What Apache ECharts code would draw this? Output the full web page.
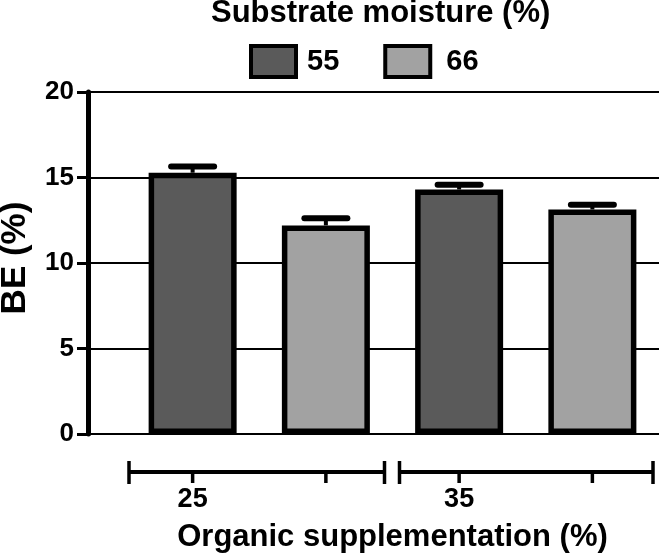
<!DOCTYPE html>
<html>
<head>
<meta charset="utf-8">
<script src="https://cdn.jsdelivr.net/npm/echarts@6/dist/echarts.min.js"></script>
<style>
html,body{margin:0;padding:0;background:#fff;}
#chart{width:661px;height:556px;}
</style>
</head>
<body>
<div id="chart"></div>
<script>
// ---- data ----
const organic = ['25', '35'];          // Organic supplementation (%)
const moisture = ['55', '66'];         // Substrate moisture (%)
const be55 = [15.28, 14.30];           // BE (%) at 55 % moisture
const be66 = [12.20, 13.13];           // BE (%) at 66 % moisture
const err55 = [0.37, 0.28];
const err66 = [0.42, 0.28];
const yTicks = [0, 5, 10, 15, 20];

// ---- build slots: each organic level has a 55 bar and a 66 bar ----
const slots = [];
const data55 = [], data66 = [], errData = [];
organic.forEach((o, i) => {
  slots.push(o + '|55', o + '|66');
  data55.push(be55[i], '-');
  data66.push('-', be66[i]);
  errData.push([2 * i, be55[i], err55[i]]);
  errData.push([2 * i + 1, be66[i], err66[i]]);
});
const groups = organic.map((o, i) => [2 * i, 2 * i + 1, 0]);

const FONT = '"Liberation Sans", Arial, Helvetica, sans-serif';
const AXIS_OFFSET = 38;
const chart = echarts.init(document.getElementById('chart'), null, {renderer: 'canvas'});

chart.setOption({
  animation: false,
  backgroundColor: '#fff',
  title: {
    text: 'Substrate moisture (%)',
    left: 211, top: -2, padding: 0,
    textStyle: {fontFamily: FONT, fontSize: 31, fontWeight: 'bold', color: '#000'}
  },
  legend: {
    data: [{name: moisture[0]}, {name: moisture[1], textStyle: {padding: [0, 0, 0, 11]}}],
    left: 249, top: 44, padding: 0,
    itemWidth: 45, itemHeight: 31, itemGap: 44,
    icon: 'rect',
    itemStyle: {borderColor: '#000', borderWidth: 4},
    textStyle: {fontFamily: FONT, fontSize: 29, fontWeight: 'bold', color: '#000', padding: [0, 0, 0, 6]}
  },
  grid: [
    {left: 88, right: 2, top: 92, bottom: 122, outerBoundsMode: 'none', containLabel: false},
    {left: 126, right: 2, top: 92, bottom: 122, outerBoundsMode: 'none', containLabel: false}
  ],
  xAxis: [
    {gridIndex: 0, type: 'value', min: 0, max: 1, show: false},
    {
      gridIndex: 1, type: 'category', data: slots, position: 'bottom', offset: AXIS_OFFSET,
      boundaryGap: true,
      name: 'Organic supplementation (%)', nameLocation: 'middle', nameGap: 50,
      nameTextStyle: {fontFamily: FONT, fontSize: 31, fontWeight: 'bold', color: '#000'},
      axisLine: {show: false},
      axisTick: {show: false},
      axisLabel: {
        interval: 0, margin: 14,
        fontFamily: FONT, fontSize: 27, fontWeight: 'bold', color: '#000',
        formatter: (v, i) => (i % 2 === 0 ? organic[i / 2] : '')
      },
      splitLine: {show: false}
    }
  ],
  yAxis: [
    {
      gridIndex: 0, type: 'value', min: yTicks[0], max: yTicks[yTicks.length - 1], interval: 5,
      name: 'BE (%)', nameLocation: 'middle', nameGap: 55, nameRotate: 90,
      nameTextStyle: {fontFamily: FONT, fontSize: 35, fontWeight: 'bold', color: '#000', padding: [0, 0, 0, 10]},
      axisLine: {show: true, lineStyle: {color: '#000', width: 5}},
      axisTick: {show: true, length: 11, lineStyle: {color: '#000', width: 3}},
      axisLabel: {margin: 14, fontFamily: FONT, fontSize: 26, fontWeight: 'bold', color: '#000'},
      splitLine: {show: true, lineStyle: {color: '#000', width: 2}}
    },
    {gridIndex: 1, type: 'value', min: 0, max: 20, interval: 5, show: false, splitLine: {show: false}}
  ],
  series: [
    {
      name: moisture[0], type: 'bar', xAxisIndex: 1, yAxisIndex: 1,
      data: data55, barWidth: 88, barGap: '-100%',
      itemStyle: {color: '#5a5a5a', borderColor: '#000', borderWidth: 5.5},
      z: 3
    },
    {
      name: moisture[1], type: 'bar', xAxisIndex: 1, yAxisIndex: 1,
      data: data66, barWidth: 88, barGap: '-100%',
      itemStyle: {color: '#a2a2a2', borderColor: '#000', borderWidth: 5.5},
      z: 3
    },
    {
      name: 'err', type: 'custom', xAxisIndex: 1, yAxisIndex: 1,
      data: errData, encode: {x: 0, y: 1}, z: 4, clip: false,
      renderItem: function (params, api) {
        const x = api.value(0), v = api.value(1), e = api.value(2);
        const p0 = api.coord([x, v]);
        const p1 = api.coord([x, v + e]);
        const half = 21.5;
        return {
          type: 'group',
          children: [
            {type: 'line', shape: {x1: p0[0], y1: p0[1], x2: p1[0], y2: p1[1]}, style: {stroke: '#000', lineWidth: 4}},
            {type: 'line', shape: {x1: p1[0] - half, y1: p1[1], x2: p1[0] + half, y2: p1[1]}, style: {stroke: '#000', lineWidth: 6, lineCap: 'round'}}
          ]
        };
      }
    },
    {
      name: 'axisBreak', type: 'custom', xAxisIndex: 1, yAxisIndex: 1,
      data: groups, encode: {x: [0, 1], y: 2}, z: 5, clip: false, silent: true,
      renderItem: function (params, api) {
        const band = api.size([1, 0])[0];
        const a = api.coord([api.value(0), 0]);
        const b = api.coord([api.value(1), 0]);
        const y = a[1] + AXIS_OFFSET;
        const g = params.dataIndex;
        const x0 = a[0] - band / 2 + (g === 0 ? 3 : 7);
        const x1 = b[0] + band / 2 - (g === 0 ? 8 : 6);
        const st = {stroke: '#000', lineWidth: 4};
        const tk = {stroke: '#000', lineWidth: 3.5};
        return {
          type: 'group',
          children: [
            {type: 'line', shape: {x1: x0, y1: y, x2: x1, y2: y}, style: st},
            {type: 'line', shape: {x1: x0, y1: y - 11, x2: x0, y2: y + 12}, style: tk},
            {type: 'line', shape: {x1: x1, y1: y - 11, x2: x1, y2: y + 12}, style: tk},
            {type: 'line', shape: {x1: a[0], y1: y, x2: a[0], y2: y + 11}, style: tk},
            {type: 'line', shape: {x1: b[0], y1: y, x2: b[0], y2: y + 11}, style: tk}
          ]
        };
      }
    }
  ]
});
</script>
</body>
</html>
